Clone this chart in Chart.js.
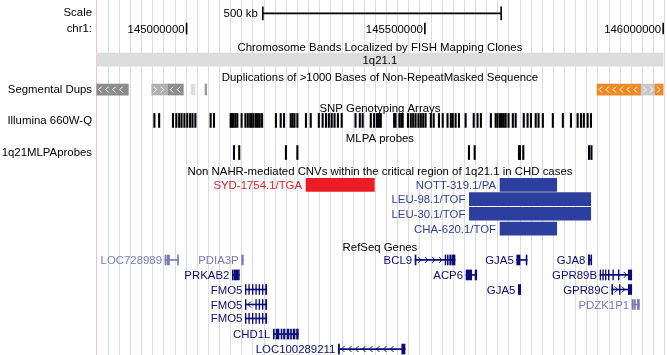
<!DOCTYPE html>
<html>
<head>
<meta charset="utf-8">
<script src="https://cdn.jsdelivr.net/npm/chart.js@4/dist/chart.umd.min.js"></script>
<style>
  html, body { margin: 0; padding: 0; background: #fff; }
  #wrap { width: 667px; height: 355px; position: relative; }
</style>
</head>
<body>
<div id="wrap"><canvas id="browser"></canvas></div>
<script>
// genome window, in Mb on chr1
const viewStart = 144.810;
const viewEnd = 146.008;
const guideStart = 144.8358;
const guideStep = 0.02335;

// track rows (row units of the browser image, top = 0)
const rows = {
  scale: 0.89, chr: 1.9, bandTitle: 3.11, band: 3.97, dupTitle: 5.15, dups: 5.97,
  snpTitle: 7.22, snp: 8.03, mlpaTitle: 9.22, mlpa: 10.17, cnvTitle: 11.37,
  cnv1: 12.32, cnv2: 13.27, cnv3: 14.25, cnv4: 15.24, geneTitle: 16.45,
  gene1: 17.33, gene2: 18.33, gene3: 19.3, gene4: 20.3, gene5: 21.23, gene6: 22.27, gene7: 23.27
};

const sideLabels = ['Scale', 'chr1:', 'Segmental Dups', 'Illumina 660W-Q', '1q21MLPAprobes'];
const sideRows = ['scale', 'chr', 'dups', 'snp', 'mlpa'];

const trackTitles = [
  'Chromosome Bands Localized by FISH Mapping Clones',
  'Duplications of >1000 Bases of Non-RepeatMasked Sequence',
  'SNP Genotyping Arrays',
  'MLPA probes',
  'Non NAHR-mediated CNVs within the critical region of 1q21.1 in CHD cases',
  'RefSeq Genes'
];
const titleRows = ['bandTitle', 'dupTitle', 'snpTitle', 'mlpaTitle', 'cnvTitle', 'geneTitle'];

// ruler
const rulerTicks = [145.0, 145.5, 146.0];
const rulerLabels = ['145000000', '145500000', '146000000'];
const scaleBar = [145.160, 145.660];
const scaleLabel = '500 kb';

// FISH band
const bandName = '1q21.1';
const bandRange = [144.8115, 146.000];

// segmental dups
const dupStarts = [144.8115, 144.9269, 144.9617, 145.0094, 145.0387, 145.8612, 145.9536, 145.9829];
const dupEnds   = [144.8778, 144.9617, 144.9932, 145.0178, 145.0423, 145.9536, 145.9829, 146.0000];
const dupStrands = ['-', '+', '-', '-', '', '-', '+', '+'];
const dupColors = ['#8c8c8c', '#b0b0b0', '#8c8c8c', '#dedede', '#9a9a9a', '#ee8a25', '#c8c8c8', '#ee8a25'];

// Illumina 660W-Q probe positions
const snpProbes = [
  144.931, 144.941, 144.970, 144.977, 144.983, 144.988, 144.994, 145.000, 145.006, 145.011,
  145.017, 145.049, 145.056, 145.091, 145.094, 145.097, 145.101, 145.105, 145.114, 145.122,
  145.127, 145.132, 145.135, 145.139, 145.144, 145.148, 145.152, 145.157, 145.186, 145.196,
  145.203, 145.217, 145.221, 145.225, 145.231, 145.249, 145.259, 145.276, 145.284, 145.291,
  145.297, 145.303, 145.309, 145.316, 145.324, 145.353, 145.362, 145.368, 145.385, 145.392,
  145.398, 145.402, 145.406, 145.434, 145.437, 145.445, 145.449, 145.452, 145.463, 145.469,
  145.474, 145.479, 145.485, 145.490, 145.495, 145.500, 145.511, 145.517, 145.528, 145.536,
  145.546, 145.553, 145.557, 145.563, 145.570, 145.584, 145.601, 145.609, 145.616, 145.637,
  145.647, 145.651, 145.656, 145.660, 145.664, 145.668, 145.674, 145.683, 145.689, 145.706,
  145.714, 145.721, 145.731, 145.737, 145.746, 145.767, 145.788, 145.805, 145.819, 145.826,
  145.832, 145.840, 145.847
];

// MLPA probes
const mlpaProbes = [145.098, 145.109, 145.207, 145.231, 145.591, 145.603, 145.696, 145.698, 145.705, 145.843, 145.848];

// CNVs
const cnvNames = ['SYD-1754.1/TGA', 'NOTT-319.1/PA', 'LEU-98.1/TOF', 'LEU-30.1/TOF', 'CHA-620.1/TOF'];
const cnvStarts = [145.2507, 145.6577, 145.5933, 145.5933, 145.6577];
const cnvEnds = [145.3940, 145.7767, 145.8480, 145.8480, 145.7767];
const cnvRows = ['cnv1', 'cnv1', 'cnv2', 'cnv3', 'cnv4'];
const cnvColors = ['#ec1c24', '#2d3f9e', '#2d3f9e', '#2d3f9e', '#2d3f9e'];

// RefSeq genes
const geneNames = ['LOC728989', 'PDIA3P', 'BCL9', 'GJA5', 'GJA8', 'PRKAB2', 'ACP6', 'GPR89B',
  'FMO5', 'GJA5', 'GPR89C', 'FMO5', 'PDZK1P1', 'FMO5', 'CHD1L', 'LOC100289211'];
const geneRows = ['gene1', 'gene1', 'gene1', 'gene1', 'gene1', 'gene2', 'gene2', 'gene2',
  'gene3', 'gene3', 'gene3', 'gene4', 'gene4', 'gene5', 'gene6', 'gene7'];
const geneStrands = ['+', '+', '+', '+', '+', '-', '-', '+', '-', '+', '+', '-', '-', '-', '+', '-'];
const geneNoncoding = [true, true, false, false, false, false, false, false, false, false, false, false, true, false, false, false];
const geneExons = [
  [[144.9548, 144.9569], [144.9590, 144.9642], [144.9810, 144.9831]],
  [[145.1157, 145.1191]],
  [[145.4794, 145.4815], [145.5423, 145.5440], [145.5470, 145.5490], [145.5520, 145.5545], [145.5565, 145.5633]],
  [[145.6927, 145.6997], [145.7123, 145.7144]],
  [[145.8430, 145.8456], [145.8480, 145.8501]],
  [[145.0960, 145.0982], [145.1002, 145.1073], [145.1088, 145.1107]],
  [[145.5864, 145.5983], [145.6053, 145.6088]],
  [[145.8675, 145.8690], [145.8732, 145.8747], [145.8786, 145.8801], [145.8849, 145.8864], [145.8942, 145.8957], [145.9059, 145.9074], [145.9269, 145.9340]],
  [[145.1233, 145.1248], [145.1304, 145.1319], [145.1380, 145.1395], [145.1451, 145.1466], [145.1520, 145.1535], [145.1590, 145.1605], [145.1658, 145.1682]],
  [[145.6961, 145.7011]],
  [[145.8921, 145.8942], [145.9081, 145.9096], [145.9269, 145.9340]],
  [[145.1233, 145.1248], [145.1451, 145.1466], [145.1520, 145.1535], [145.1590, 145.1605], [145.1658, 145.1682]],
  [[145.9347, 145.9375], [145.9396, 145.9417], [145.9459, 145.9501]],
  [[145.1233, 145.1248], [145.1304, 145.1319], [145.1380, 145.1395], [145.1451, 145.1466], [145.1520, 145.1535], [145.1590, 145.1605], [145.1658, 145.1682]],
  [[145.1820, 145.1841], [145.1877, 145.1940], [145.1982, 145.2003], [145.2034, 145.2066], [145.2108, 145.2150], [145.2181, 145.2202], [145.2234, 145.2276], [145.2307, 145.2345]],
  [[145.3184, 145.3209], [145.4515, 145.4584]]
];

const FONT = '11.4px "Liberation Sans", Arial, sans-serif';
const geneColor = '#0c0c78';
const ncColor = '#7a7ab8';
const tickW = 0.003;

function geneCol(i) { return geneNoncoding[i] ? ncColor : geneColor; }

// build datasets
const bandData = [{ x: bandRange, y: rows.band }];
const dupData = dupStarts.map((s, i) => ({ x: [s, dupEnds[i]], y: rows.dups }));
const snpData = snpProbes.map(p => ({ x: [p, p + tickW], y: rows.snp }));
const mlpaData = mlpaProbes.map(p => ({ x: [p, p + tickW], y: rows.mlpa }));
const cnvData = cnvStarts.map((s, i) => ({ x: [s, cnvEnds[i]], y: rows[cnvRows[i]] }));
const intronData = [], intronColors = [], exonData = [], exonColors = [];
geneExons.forEach((ex, i) => {
  const s = ex[0][0], e = ex[ex.length - 1][1];
  intronData.push({ x: [s, e], y: rows[geneRows[i]] });
  intronColors.push(geneCol(i));
  ex.forEach(r => { exonData.push({ x: r, y: rows[geneRows[i]] }); exonColors.push(geneCol(i)); });
});
const rulerData = rulerTicks.map(v => ({ x: [v - 0.001, v + 0.001], y: rows.chr }));
const scaleLineData = [{ x: scaleBar, y: rows.scale }];
const scaleEndData = scaleBar.map(v => ({ x: [v - 0.001, v + 0.001], y: rows.scale }));

function bars(data, color, thickness) {
  return { data, backgroundColor: color, barThickness: thickness, borderWidth: 0, borderSkipped: false };
}

function chevrons(ctx, x0, x1, yc, dir, color, gap, skip) {
  ctx.strokeStyle = color;
  ctx.lineWidth = 1;
  for (let cx = x0 + gap / 2; cx < x1 - 2; cx += gap) {
    if (skip && skip.some(r => cx > r[0] - 3 && cx < r[1] + 3)) continue;
    const d = dir === '+' ? 1 : -1;
    ctx.beginPath();
    ctx.moveTo(cx - 1.5 * d, yc - 3);
    ctx.lineTo(cx + 1.5 * d, yc);
    ctx.lineTo(cx - 1.5 * d, yc + 3);
    ctx.stroke();
  }
}

const trackText = {
  id: 'trackText',
  afterDatasetsDraw(chart) {
    const { ctx, scales: { x, y } } = chart;
    const base = r => y.getPixelForValue(rows[r]) + 4;
    ctx.save();
    ctx.font = FONT;
    ctx.textBaseline = 'alphabetic';

    // chevrons on seg dups
    dupStarts.forEach((s, i) => {
      if (!dupStrands[i]) return;
      chevrons(ctx, x.getPixelForValue(s), x.getPixelForValue(dupEnds[i]), y.getPixelForValue(rows.dups), dupStrands[i], '#ffffff', 7);
    });
    // chevrons on gene introns
    geneExons.forEach((ex, i) => {
      const px = ex.map(r => [x.getPixelForValue(r[0]), x.getPixelForValue(r[1])]);
      chevrons(ctx, px[0][1], px[px.length - 1][0], y.getPixelForValue(rows[geneRows[i]]), geneStrands[i], geneCol(i), 7, px);
    });

    // track titles, centred on the window
    const cx = (x.getPixelForValue(bandRange[0]) + x.getPixelForValue(bandRange[1])) / 2;
    ctx.fillStyle = '#000';
    ctx.textAlign = 'center';
    trackTitles.forEach((t, i) => ctx.fillText(t, cx, base(titleRows[i])));
    ctx.fillText(bandName, cx, base('band'));

    // ruler
    ctx.textAlign = 'right';
    rulerTicks.forEach((v, i) => ctx.fillText(rulerLabels[i], x.getPixelForValue(v) - 2, base('chr')));
    ctx.fillText(scaleLabel, x.getPixelForValue(scaleBar[0]) - 5, base('scale'));

    // CNV labels
    cnvNames.forEach((n, i) => {
      ctx.fillStyle = cnvColors[i];
      ctx.fillText(n, x.getPixelForValue(cnvStarts[i]) - 4, base(cnvRows[i]));
    });

    // gene labels
    geneNames.forEach((n, i) => {
      ctx.fillStyle = geneCol(i);
      ctx.fillText(n, x.getPixelForValue(geneExons[i][0][0]) - 3, base(geneRows[i]));
    });
    ctx.restore();
  }
};

new Chart(document.getElementById('browser'), {
  type: 'bar',
  data: {
    datasets: [
      bars(bandData, '#dcdcdc', 13),
      bars(dupData, dupColors, 11),
      bars(snpData, '#000000', 14),
      bars(mlpaData, '#000000', 14),
      bars(cnvData, cnvColors, 13),
      bars(intronData, intronColors, 1),
      bars(exonData, exonColors, 10),
      bars(rulerData, '#000000', 11),
      bars(scaleLineData, '#000000', 1),
      bars(scaleEndData, '#000000', 13)
    ]
  },
  options: {
    indexAxis: 'y',
    responsive: true,
    maintainAspectRatio: false,
    animation: false,
    devicePixelRatio: 1,
    grouped: false,
    layout: { padding: 0 },
    plugins: { legend: { display: false }, tooltip: { enabled: false } },
    scales: {
      x: {
        type: 'linear',
        min: viewStart,
        max: viewEnd,
        offset: false,
        afterBuildTicks: axis => {
          const t = [];
          for (let v = guideStart; v <= viewEnd; v += guideStep) t.push({ value: v });
          axis.ticks = t;
        },
        afterFit: axis => {
          axis.height = 0;
          axis.paddingLeft = axis.paddingRight = 0;
        },
        ticks: { display: false },
        grid: { color: '#dadaf0', lineWidth: 1, drawTicks: false, offset: false },
        border: { display: false }
      },
      y: {
        type: 'linear',
        reverse: true,
        offset: false,
        min: 0,
        max: 355 / 15,
        afterBuildTicks: axis => {
          axis.ticks = sideRows.map(r => ({ value: rows[r] }));
        },
        afterFit: axis => {
          axis.width = 96;
          axis.paddingTop = axis.paddingBottom = 0;
        },
        ticks: {
          autoSkip: false,
          padding: 4,
          color: '#000',
          font: { family: '"Liberation Sans", Arial, sans-serif', size: 11.4 },
          callback: v => sideLabels[sideRows.findIndex(r => rows[r] === v)]
        },
        grid: { display: false, drawTicks: false, offset: false },
        border: { display: true, color: '#f3c2c2', width: 1 }
      }
    }
  },
  plugins: [trackText]
});
</script>
</body>
</html>
